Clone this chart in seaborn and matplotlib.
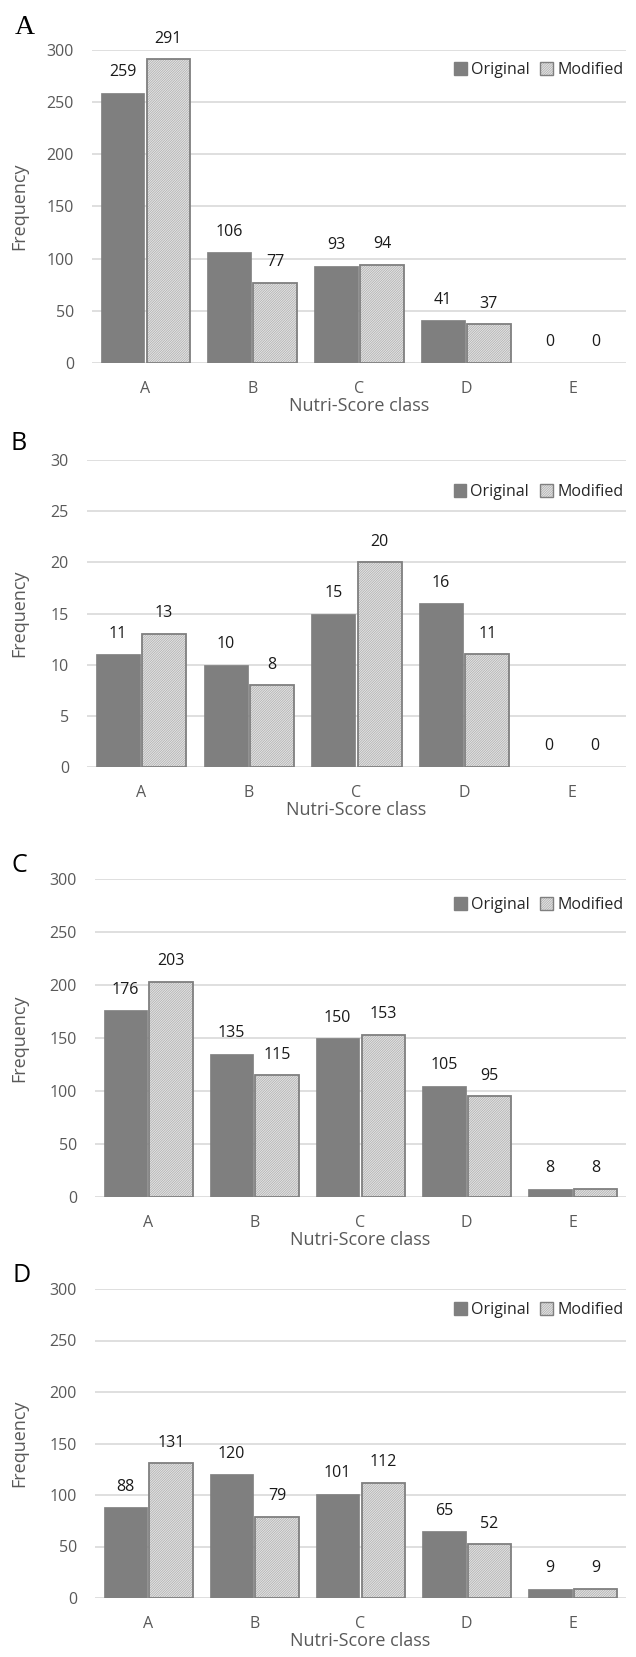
import pandas as pd
import matplotlib.pyplot as plt
import seaborn as sns
from matplotlib.colors import to_rgba
from matplotlib.patches import Patch

classes = ["A", "B", "C", "D", "E"]
versions = ["Original", "Modified"]

a_orig = [259, 106, 93, 41, 0]
a_mod = [291, 77, 94, 37, 0]
b_orig = [11, 10, 15, 16, 0]
b_mod = [13, 8, 20, 11, 0]
c_orig = [176, 135, 150, 105, 8]
c_mod = [203, 115, 153, 95, 8]
d_orig = [88, 120, 101, 65, 9]
d_mod = [131, 79, 112, 52, 9]

panels = [
    ("A", a_orig, a_mod, 300, 50),
    ("B", b_orig, b_mod, 30, 5),
    ("C", c_orig, c_mod, 300, 50),
    ("D", d_orig, d_mod, 300, 50),
]

# axes rectangles in pixels: left, right, top, bottom
W, H = 636, 1657
boxes = [(92, 626, 50, 363), (87, 626, 460, 767), (95, 626, 879, 1197), (95, 626, 1289, 1598)]
legend_y = [70, 492, 905, 1310]
letter_pos = [(25, 27), (19, 443), (19, 866), (22, 1276)]

sns.set_theme(style="white")
plt.rcParams["font.family"] = ["Open Sans", "DejaVu Sans"]
plt.rcParams["hatch.linewidth"] = 0.45

GRAY = "#595959"
DARK = "#7f7f7f"
LIGHT = "#e4e4e4"
HATCH = "/" * 14
HATCH_COL = to_rgba("#a8a8a8")
FS = 11.5


def hatch_it(p):
    p.set_edgecolor(DARK)
    p.set_hatch(HATCH)
    p._hatch_color = HATCH_COL


fig = plt.figure(figsize=(W / 100, H / 100), dpi=100)

for i, (letter, orig, mod, ymax, step) in enumerate(panels):
    l, r, t, b = boxes[i]
    ax = fig.add_axes([l / W, 1 - b / H, (r - l) / W, (b - t) / H])
    df = pd.DataFrame({
        "cls": classes * 2,
        "freq": orig + mod,
        "version": ["Original"] * 5 + ["Modified"] * 5,
    })
    sns.barplot(data=df, x="cls", y="freq", hue="version", hue_order=versions,
                palette={"Original": DARK, "Modified": LIGHT},
                width=0.86, gap=0.05, legend=False, ax=ax, zorder=3)
    for p in ax.containers[0]:
        p.set_edgecolor(DARK)
        p.set_linewidth(0.5)
    for p in ax.containers[1]:
        hatch_it(p)
        p.set_linewidth(1.3)
    for c in ax.containers:
        for p in c:
            if p.get_height() == 0:
                p.set_linewidth(0)
                p.set_hatch(None)
        ax.bar_label(c, padding=9, fontsize=FS, color="#1a1a1a")

    ax.set_ylim(0, ymax)
    ax.set_yticks(range(0, ymax + 1, step))
    ax.set_xlim(-0.5, 4.5)
    ax.grid(axis="y", color="#d9d9d9", linewidth=1.2, zorder=0)
    ax.set_axisbelow(True)
    for s in ax.spines.values():
        s.set_visible(False)
    ax.tick_params(axis="both", length=0, pad=13, labelsize=FS, labelcolor=GRAY)
    ax.set_xlabel("Nutri-Score class", fontsize=FS + 1.5, color=GRAY, labelpad=0)
    ax.set_ylabel("Frequency", fontsize=FS + 1.5, color=GRAY)
    ax.yaxis.set_label_coords((28 - l) / (r - l), 0.5)

    h_orig = Patch(facecolor=DARK, edgecolor=DARK)
    h_mod = Patch(facecolor=LIGHT, linewidth=1)
    hatch_it(h_mod)
    ly = (b - legend_y[i]) / (b - t)
    ax.legend([h_orig, h_mod], versions, loc="center right", bbox_to_anchor=(0.995, ly),
              ncol=2, frameon=False, fontsize=FS, handlelength=0.8, handleheight=0.8,
              handletextpad=0.25, columnspacing=0.7, borderpad=0, borderaxespad=0,
              labelcolor="#262626")

    lx, lyy = letter_pos[i]
    fam = ["Liberation Serif"] if letter == "A" else ["Open Sans"]
    size = 20 if letter == "A" else 18
    fig.text(lx / W, 1 - lyy / H, letter, fontsize=size, family=fam,
             ha="center", va="center", color="black")

fig.savefig("out.png", dpi=100)
